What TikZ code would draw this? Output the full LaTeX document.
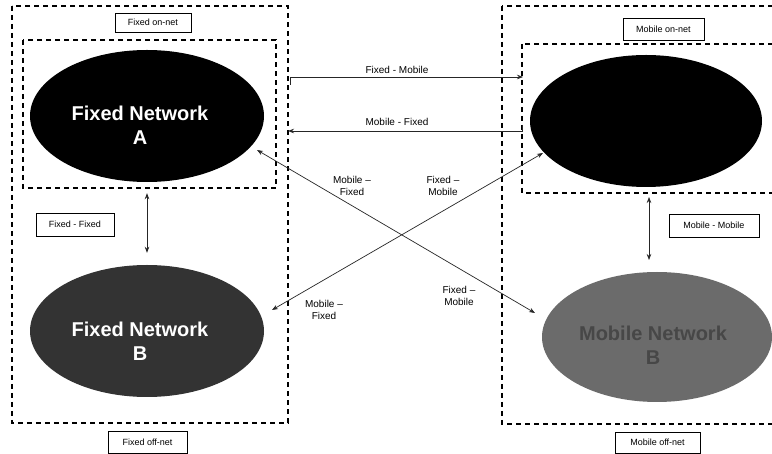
\documentclass[tikz,border=0pt]{standalone}
\usepackage{fontspec}
\setmainfont{Liberation Sans}
\usetikzlibrary{shapes.geometric,arrows.meta}
\begin{document}
\begin{tikzpicture}[x=1pt,y=-1pt,
 dbox/.style={draw=black, line width=1.1pt, dash pattern=on 5pt off 4pt},
 net/.style={ellipse, inner sep=0pt, minimum width=234pt, minimum height=132pt},
 bigtxt/.style={text=white, font=\fontsize{20}{24}\selectfont\bfseries, align=center, inner sep=0pt},
 lbl/.style={draw=black, line width=0.8pt, fill=white, font=\fontsize{9}{11}\selectfont, inner sep=0pt},
 conn/.style={draw=black!85, line width=0.7pt},
 tip/.style={-{Stealth[length=6pt,width=4.5pt]}},
 dtip/.style={{Stealth[length=6pt,width=4.5pt]}-{Stealth[length=6pt,width=4.5pt]}},
 ctxt/.style={font=\fontsize{10}{12}\selectfont, align=center, inner sep=0pt}
]
\clip (0,0) rectangle (772,454);
\fill[white] (0,0) rectangle (772,454);

% dashed region boxes
\draw[dbox] (12,6) rectangle (288,423);
\draw[dbox] (23,40) rectangle (276,188);
\draw[dbox] (502,6) rectangle (800,424);
\draw[dbox] (522,44) rectangle (800,193);

% networks
\node[net, fill=black] (FA) at (147,116) {};
\node[bigtxt] (FAt) at (140,125) {Fixed Network\\A};
\node[net, fill=black!80] (FB) at (147,331) {};
\node[bigtxt] (FBt) at (140,341) {Fixed Network\\B};
\node[net, fill=black, minimum width=232pt] (MA) at (646,121) {};
\node[net, fill=black!58, minimum width=230pt, minimum height=130pt] (MB) at (657,337) {};
\node[bigtxt, text=black!72] (MBt) at (653,345) {Mobile Network\\B};

% label boxes
\node[lbl, minimum width=76pt, minimum height=19pt] (lfon) at (153,22.5) {Fixed on-net};
\node[lbl, minimum width=81pt, minimum height=22pt] (lmon) at (663.5,29) {Mobile on-net};
\node[lbl, minimum width=78pt, minimum height=23pt] (lff) at (75,224.5) {Fixed - Fixed};
\node[lbl, minimum width=90pt, minimum height=23pt] (lmm) at (714,225.5) {Mobile - Mobile};
\node[lbl, minimum width=79pt, minimum height=22pt] (lfoff) at (147.5,442) {Fixed off-net};
\node[lbl, minimum width=85pt, minimum height=21pt] (lmoff) at (657.5,442.5) {Mobile off-net};

% vertical connectors
\draw[conn, dtip, shorten <=11pt, shorten >=12pt] (FA.south) -- (FB.north);
\coordinate (mm1) at (649,197);
\coordinate (mm2) at (649,260);
\draw[conn, dtip] (mm1) -- (mm2);

% horizontal connectors
\coordinate (fm1) at (290,85);
\coordinate (fm2) at (523,77);
\draw[conn, tip] (fm1) |- (fm2);
\node[ctxt] (tfm) at (397,70) {Fixed - Mobile};
\coordinate (mf1) at (522,125);
\coordinate (mf2) at (288,131);
\draw[conn, tip] (mf1) |- (mf2);
\node[ctxt] (tmf) at (397,122) {Mobile - Fixed};

% diagonal connectors
\coordinate (d1a) at (257,150);
\coordinate (d1b) at (535,313);
\draw[conn, dtip] (d1a) -- (d1b);
\coordinate (d2a) at (272,310);
\coordinate (d2b) at (543,153);
\draw[conn, dtip] (d2a) -- (d2b);

\node[ctxt] (t1) at (352,186) {Mobile –\\Fixed};
\node[ctxt] (t2) at (443,186) {Fixed –\\Mobile};
\node[ctxt] (t3) at (459,296) {Fixed –\\Mobile};
\node[ctxt] (t4) at (324,310) {Mobile –\\Fixed};
\end{tikzpicture}
\end{document}
